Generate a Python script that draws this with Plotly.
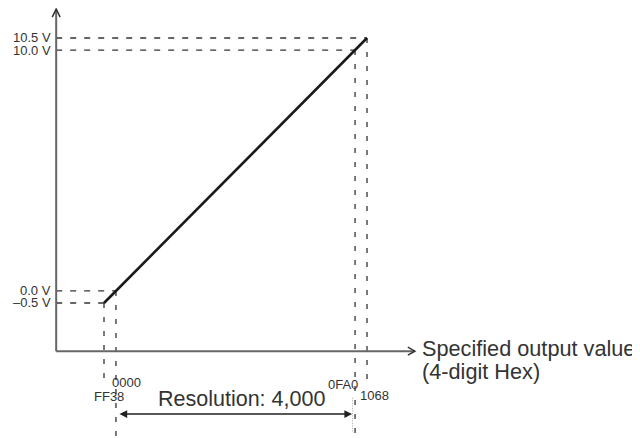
import plotly.graph_objects as go

# ---- data ----
hex_labels = ["FF38", "0000", "0FA0", "1068"]
hex_values = [-200, 0, 4000, 4200]          # decimal equivalents
volt_labels = ["–0.5 V", "0.0 V", "10.0 V", "10.5 V"]
volt_values = [-0.5, 0.0, 10.0, 10.5]
line_x = [hex_values[0], hex_values[3]]
line_y = [volt_values[0], volt_values[3]]
resolution_text = "Resolution: 4,000"
axis_title_lines = ["Specified output value", "(4-digit Hex)"]

# ---- geometry of the schematic (in data units) ----
X0, Y0 = -1000, -2.5        # axis origin
XEND, YEND = 5000, 11.7     # axis arrow tips
XR = [-1806.1, 8767]
YR = [-6.104, 11.745]
YBOT = YR[0]

AX_COL = "#666666"
DASH_COL = "#333333"
FONT = "Liberation Sans, Arial, sans-serif"

fig = go.Figure()

# horizontal dashed guides (from y axis to the point on the line)
for v, h in zip(volt_values, hex_values):
    fig.add_trace(go.Scatter(x=[X0, h], y=[v, v], mode="lines",
                             line=dict(color=DASH_COL, width=1.3, dash="6px,8px")))

# vertical dashed guides
vert_ends = [-3.95, YBOT, YBOT, -4.03]
for h, v, e in zip(hex_values, volt_values, vert_ends):
    fig.add_trace(go.Scatter(x=[h, h], y=[v, e], mode="lines",
                             line=dict(color=DASH_COL, width=1.3, dash="5px,9px")))

# thin dotted mark near right resolution arrow
fig.add_trace(go.Scatter(x=[3957, 3957], y=[-4.44, -5.85], mode="lines",
                         line=dict(color="#888888", width=0.7, dash="1px,1.5px")))

# axes
fig.add_trace(go.Scatter(x=[X0, X0], y=[Y0, YEND], mode="lines",
                         line=dict(color=AX_COL, width=2)))
fig.add_trace(go.Scatter(x=[X0, XEND], y=[Y0, Y0], mode="lines",
                         line=dict(color=AX_COL, width=2)))

# main characteristic line
fig.add_trace(go.Scatter(x=line_x, y=line_y, mode="lines",
                         line=dict(color="#1a1a1a", width=2.6)))

shapes = [
    # y-axis open arrowhead
    dict(type="path", xsizemode="pixel", ysizemode="pixel",
         xanchor=X0, yanchor=YEND, xref="x", yref="y",
         path="M-4,-8 L0,0 L4,-8", line=dict(color="#333333", width=1.5)),
    # x-axis open arrowhead
    dict(type="path", xsizemode="pixel", ysizemode="pixel",
         xanchor=XEND, yanchor=Y0, xref="x", yref="y",
         path="M-7,4 L0,0 L-7,-4", line=dict(color="#333333", width=1.5)),
]

ann = []
# voltage labels
for lab, v in zip(volt_labels, volt_values):
    ann.append(dict(x=X0, y=v, text=lab, showarrow=False, xanchor="right",
                    yanchor="middle", xshift=-4, borderpad=0,
                    font=dict(size=13, color="#333333", family=FONT)))

# hex labels
hex_pos = [
    dict(y=-4.40, xanchor="center", xshift=5),   # FF38
    dict(y=-3.78, xanchor="left", xshift=-5),    # 0000
    dict(y=-3.90, xanchor="right", xshift=4),    # 0FA0
    dict(y=-4.32, xanchor="left", xshift=-8),    # 1068
]
for lab, h, p in zip(hex_labels, hex_values, hex_pos):
    ann.append(dict(x=h, text=lab, showarrow=False, yanchor="middle", borderpad=0,
                    font=dict(size=13, color="#333333", family=FONT), **p))

# resolution text and double arrow
ann.append(dict(x=(hex_values[1] + hex_values[2]) / 2, y=-4.49, text=resolution_text,
                showarrow=False, xanchor="center", yanchor="middle", xshift=6,
                font=dict(size=21.5, color="#333333", family=FONT)))
ann.append(dict(x=hex_values[2], y=-5.11, ax=hex_values[1], ay=-5.11,
                xref="x", yref="y", axref="x", ayref="y", text="",
                showarrow=True, arrowhead=2, startarrowhead=2, arrowside="end+start",
                arrowsize=1.1, startarrowsize=1.1, arrowwidth=1.4, arrowcolor="#222222",
                standoff=3, startstandoff=2))

# axis title (two lines, tight spacing)
for txt, ys in zip(axis_title_lines, [3, -20]):
    ann.append(dict(x=XEND, y=Y0, text=txt, showarrow=False, xanchor="left",
                    yanchor="middle", align="left", xshift=5, yshift=ys,
                    font=dict(size=21.7, color="#333333", family=FONT)))

fig.update_layout(
    width=632, height=430, margin=dict(l=0, r=0, t=0, b=0, pad=0),
    paper_bgcolor="white", plot_bgcolor="white", showlegend=False,
    hovermode=False,
    xaxis=dict(range=XR, visible=False, fixedrange=True),
    yaxis=dict(range=YR, visible=False, fixedrange=True),
    shapes=shapes, annotations=ann,
)

fig.write_html("out.html")
